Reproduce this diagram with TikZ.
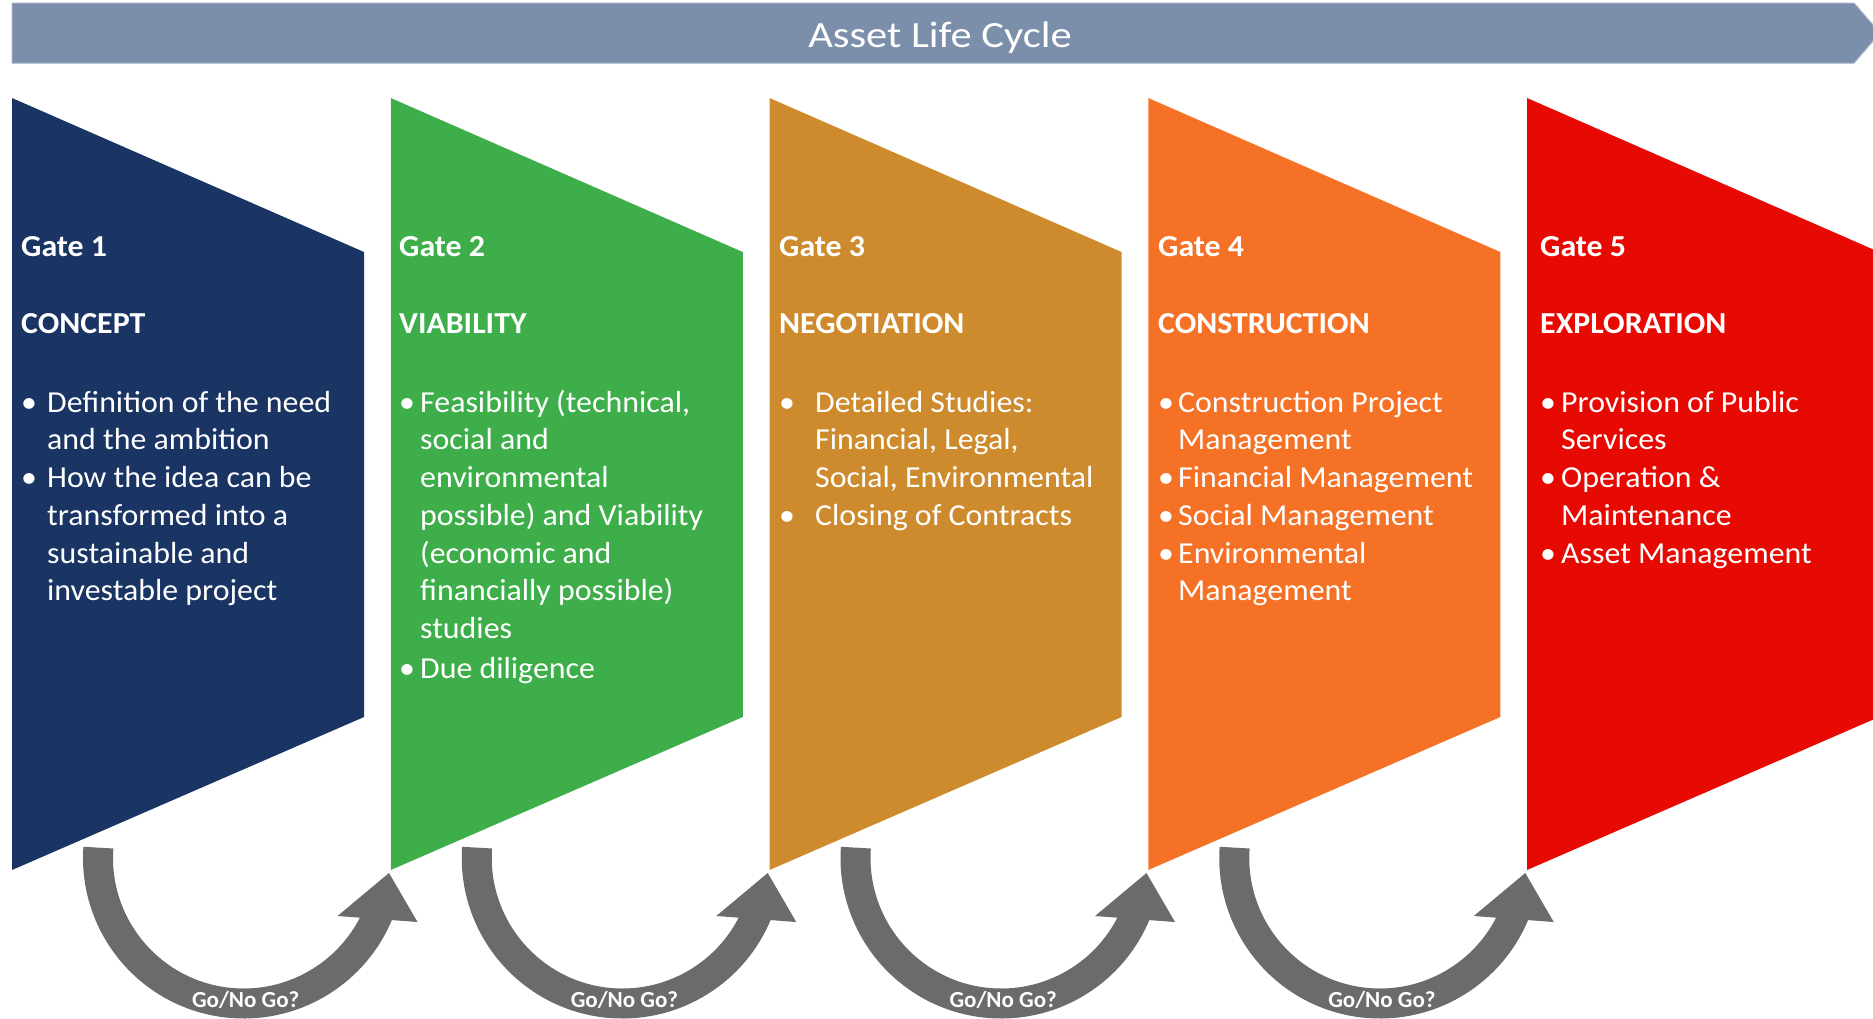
\documentclass[tikz,border=0pt]{standalone}
\usepackage{fontspec}
\setmainfont{Carlito}
\newfontfamily\gatefont[FakeStretch=1.045]{Carlito}
\newfontfamily\titlefont[FakeStretch=1.15]{Carlito}

\definecolor{banner}{HTML}{7B8EAA}
\definecolor{bannerline}{HTML}{A3B1C6}
\definecolor{gateone}{HTML}{1A3464}
\definecolor{gatetwo}{HTML}{3DAE4A}
\definecolor{gatethree}{HTML}{CD8B2D}
\definecolor{gatefour}{HTML}{F57126}
\definecolor{gatefive}{HTML}{E60A03}
\definecolor{arrowgray}{HTML}{6B6B6B}

\newcommand{\blt}[1]{\makebox[#1][l]{•}}
\newcommand{\bltskip}[1]{\hspace*{#1}}

\begin{document}
\begin{tikzpicture}[x=1pt,y=1pt]
  \tikzset{gatetitle/.style = {%
      anchor = base west,
      inner sep = 0pt,
      text = white,
      font = \gatefont\bfseries\fontsize{30.5}{36}\selectfont}}
  \tikzset{gatetext/.style = {%
      anchor = north west,
      inner sep = 0pt,
      text = white,
      align = left,
      font = \gatefont\fontsize{30.5}{37.7}\selectfont}}
  \tikzset{gonogo/.style = {%
      draw = arrowgray,
      line width = 30pt,
      line cap = butt}}
  \useasboundingbox (0,0) rectangle (1873,-1018);
  \clip (0,0) rectangle (1873,-1018);
  % banner
  \filldraw[fill=banner, draw=bannerline, line width=1pt]
    (12,-3) -- (1854,-3) -- (1880,-33) -- (1854,-63) -- (12,-63) -- cycle;
  \node[anchor=base, inner sep=0pt, text=white,
        font=\titlefont\fontsize{37}{43}\selectfont] (title) at (940,-47) {Asset Life Cycle};
  % gates
  \foreach \x/\c in {12/gateone, 390.75/gatetwo, 769.5/gatethree,
                     1148.25/gatefour, 1527/gatefive}
    \fill[\c] (\x,-98) -- ++(352,-154) -- ++(0,-465) -- (\x,-870) -- cycle;
  % go / no go arrows
  \foreach \cx [count=\i] in {243.7, 622.45, 1001.2, 1379.95} {
    \draw[gonogo] (\cx,-857.8) ++(176:145.7)
      arc[start angle=176, end angle=338, radius=145.7];
    \fill[arrowgray] (\cx,-857.8) ++(145.3,-15.2) -- ++(-51.5,-43) -- ++(80,-6) -- cycle;
    \node[anchor=base, inner sep=0pt, text=white,
          font=\bfseries\fontsize{23}{27}\selectfont] (go\i) at (\cx+2,-1007) {Go/No Go?};
  }
  %\node[gatetitle] at (0,0) {};
  \node[gatetitle] (gate1) at (21,-256) {Gate 1};
  \node[gatetitle] (head1) at (21,-333) {CONCEPT};
  \node[gatetext] (text1) at (21,-385.6) {\strut\blt{26pt}Definition of the need\\
    \bltskip{26pt}and the ambition\\
    \blt{26pt}How the idea can be\\
    \bltskip{26pt}transformed into a\\
    \bltskip{26pt}sustainable and\\
    \bltskip{26pt}investable project};
  \node[gatetitle] (gate2) at (399,-256) {Gate 2};
  \node[gatetitle] (head2) at (399,-333) {VIABILITY};
  \node[gatetext] (text2) at (399,-385.6) {\strut\blt{21pt}Feasibility (technical,\\
    \bltskip{21pt}social and\\
    \bltskip{21pt}environmental\\
    \bltskip{21pt}possible) and Viability\\
    \bltskip{21pt}(economic and\\
    \bltskip{21pt}financially possible)\\
    \bltskip{21pt}studies\\[2pt]
    \blt{21pt}Due diligence};
  \node[gatetitle] (gate3) at (779,-256) {Gate 3};
  \node[gatetitle] (head3) at (779,-333) {NEGOTIATION};
  \node[gatetext] (text3) at (779,-385.6) {\strut\blt{36pt}Detailed Studies:\\
    \bltskip{36pt}Financial, Legal,\\
    \bltskip{36pt}Social, Environmental\\
    \blt{36pt}Closing of Contracts};
  \node[gatetitle] (gate4) at (1158,-256) {Gate 4};
  \node[gatetitle] (head4) at (1158,-333) {CONSTRUCTION};
  \node[gatetext] (text4) at (1158,-385.6) {\strut\blt{20pt}Construction Project\\
    \bltskip{20pt}Management\\
    \blt{20pt}Financial Management\\
    \blt{20pt}Social Management\\
    \blt{20pt}Environmental\\
    \bltskip{20pt}Management};
  \node[gatetitle] (gate5) at (1540,-256) {Gate 5};
  \node[gatetitle] (head5) at (1540,-333) {EXPLORATION};
  \node[gatetext] (text5) at (1540,-385.6) {\strut\blt{21pt}Provision of Public\\
    \bltskip{21pt}Services\\
    \blt{21pt}Operation \&\\
    \bltskip{21pt}Maintenance\\
    \blt{21pt}Asset Management};
\end{tikzpicture}
\end{document}
